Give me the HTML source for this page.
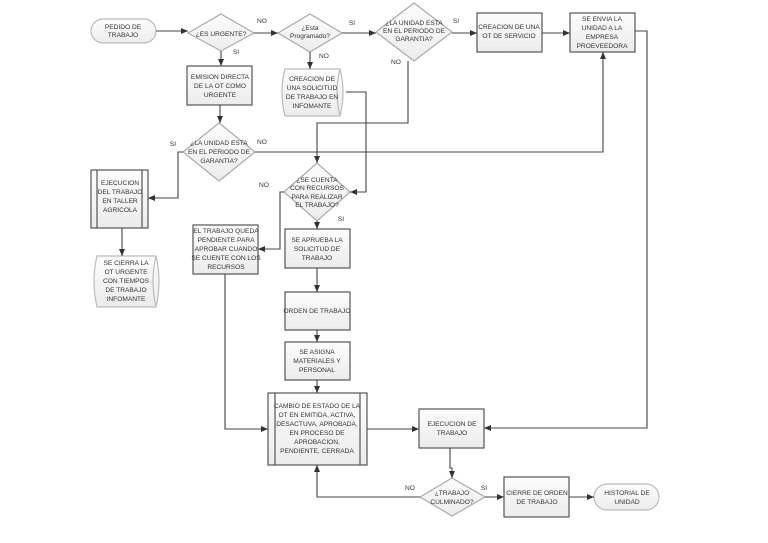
<!DOCTYPE html>
<html><head><meta charset="utf-8"><style>body{margin:0;background:#fff}svg{display:block}text{font-family:"Liberation Sans",sans-serif;font-size:6.6px;fill:#333;text-anchor:middle}</style></head><body>
<svg width="768" height="543" viewBox="0 0 768 543" xmlns="http://www.w3.org/2000/svg">
<defs>
<linearGradient id="g" x1="0" y1="0" x2="0" y2="1"><stop offset="0" stop-color="#fdfdfd"/><stop offset="1" stop-color="#ececec"/></linearGradient>
<marker id="a" markerWidth="8" markerHeight="8" refX="7" refY="4" orient="auto" markerUnits="userSpaceOnUse"><path d="M0,1 L7,4 L0,7 z" fill="#333"/></marker>
</defs>
<g fill="url(#g)" stroke="#555" stroke-width="1.2">
<rect x="91" y="19" width="65" height="24" rx="12" stroke="#bbb"/>
<polygon points="188,33 221,14 254,33 221,51" stroke="#aaa"/>
<polygon points="278,33 310,14 342,33 310,52" stroke="#aaa"/>
<polygon points="376,32 414,3 452,32 414,61" stroke="#aaa"/>
<rect x="477" y="13" width="65" height="39"/>
<rect x="570" y="13" width="65" height="39"/>
<rect x="187" y="66" width="65" height="39"/>
<path d="M285,69 H340 Q346,92 340,116 H285 Q279,92 285,69 Z" stroke="#bbb"/>
<path d="M340,69 Q334,92 340,116" fill="none" stroke="#bbb"/>
<polygon points="183,152 219,123 255,152 219,181" stroke="#aaa"/>
<rect x="91" y="170" width="57" height="58"/>
<path d="M97,256 H156 Q162,281 156,307 H97 Q91,281 97,256 Z" stroke="#bbb"/>
<path d="M156,256 Q150,281 156,307" fill="none" stroke="#bbb"/>
<polygon points="284,192 317,163 350,192 317,221" stroke="#aaa"/>
<rect x="193" y="225" width="65" height="49"/>
<rect x="285" y="229" width="65" height="39"/>
<rect x="285" y="292" width="65" height="38"/>
<rect x="285" y="342" width="65" height="38"/>
<rect x="268" y="393" width="99" height="72"/>
<rect x="419" y="409" width="65" height="39"/>
<polygon points="420,497 452,478 485,497 452,516" stroke="#aaa"/>
<rect x="504" y="477" width="65" height="40"/>
<rect x="594" y="484" width="65" height="26" rx="13" stroke="#bbb"/>
</g>
<g stroke="#555" stroke-width="1.2" fill="none">
<line x1="97" y1="170" x2="97" y2="228"/><line x1="142" y1="170" x2="142" y2="228"/>
<line x1="275" y1="393" x2="275" y2="465"/><line x1="360" y1="393" x2="360" y2="465"/>
</g>
<g stroke="#444" stroke-width="1.1" fill="none" marker-end="url(#a)">
<path d="M156,31 H188"/>
<path d="M254,33 H278"/>
<path d="M342,33 H376"/>
<path d="M452,33 H477"/>
<path d="M542,33 H570"/>
<path d="M635,31 H647 V428 H484"/>
<path d="M221,51 V66"/>
<path d="M310,52 V69"/>
<path d="M408,61 V123 H317 V163"/>
<path d="M346,92 H366 V192 H350"/>
<path d="M220,105 V123"/>
<path d="M183,152 H178 V198 H148"/>
<path d="M255,152 H603 V52"/>
<path d="M122,228 V256"/>
<path d="M284,192 H280 V249 H258"/>
<path d="M317,221 V229"/>
<path d="M317,268 V292"/>
<path d="M317,330 V342"/>
<path d="M317,380 V393"/>
<path d="M225,274 V429 H268"/>
<path d="M367,429 H419"/>
<path d="M450,448 V468 H452 V478"/>
<path d="M420,497 H317 V465"/>
<path d="M485,497 H504"/>
<path d="M569,497 H594"/>
</g>
<text x="123" y="29">PEDIDO DE</text><text x="123" y="37">TRABAJO</text>
<text x="221" y="36">¿ES URGENTE?</text>
<text x="310" y="30">¿Esta</text><text x="310" y="38">Programado?</text>
<text x="414" y="25">¿LA UNIDAD ESTA</text><text x="414" y="33">EN EL PERIODO DE</text><text x="414" y="41">GARANTIA?</text>
<text x="509" y="29">CREACION DE UNA</text><text x="509" y="38">OT DE SERVICIO</text>
<text x="602" y="21">SE ENVIA LA</text><text x="602" y="30">UNIDAD A LA</text><text x="602" y="39">EMPRESA</text><text x="602" y="48">PROEVEEDORA</text>
<text x="220" y="79">EMISION DIRECTA</text><text x="220" y="88">DE LA OT COMO</text><text x="220" y="97">URGENTE</text>
<text x="312" y="81">CREACION DE</text><text x="312" y="90">UNA SOLICITUD</text><text x="312" y="99">DE TRABAJO EN</text><text x="312" y="108">INFOMANTE</text>
<text x="219" y="145">¿LA UNIDAD ESTA</text><text x="219" y="154">EN EL PERIODO DE</text><text x="219" y="163">GARANTIA?</text>
<text x="120" y="185">EJECUCION</text><text x="120" y="194">DEL TRABAJO</text><text x="120" y="203">EN TALLER</text><text x="120" y="212">AGRICOLA</text>
<text x="126" y="265">SE CIERRA LA</text><text x="126" y="274">OT URGENTE</text><text x="126" y="283">CON TIEMPOS</text><text x="126" y="292">DE TRABAJO</text><text x="126" y="301">INFOMANTE</text>
<text x="317" y="182">¿SE CUENTA</text><text x="317" y="190">CON RECURSOS</text><text x="317" y="199">PARA REALIZAR</text><text x="317" y="207">EL TRABAJO?</text>
<text x="226" y="233">EL TRABAJO QUEDA</text><text x="226" y="242">PENDIENTE PARA</text><text x="226" y="251">APROBAR CUANDO</text><text x="226" y="260">SE CUENTE CON LOS</text><text x="226" y="269">RECURSOS</text>
<text x="317" y="242">SE APRUEBA LA</text><text x="317" y="251">SOLICITUD DE</text><text x="317" y="260">TRABAJO</text>
<text x="317" y="313">ORDEN DE TRABAJO</text>
<text x="317" y="354">SE ASIGNA</text><text x="317" y="363">MATERIALES Y</text><text x="317" y="372">PERSONAL</text>
<text x="317" y="408">CAMBIO DE ESTADO DE LA</text><text x="317" y="417">OT EN EMITIDA, ACTIVA,</text><text x="317" y="426">DESACTUVA, APROBADA,</text><text x="317" y="435">EN PROCESO DE</text><text x="317" y="444">APROBACION,</text><text x="317" y="453">PENDIENTE, CERRADA</text>
<text x="452" y="426">EJECUCION DE</text><text x="452" y="435">TRABAJO</text>
<text x="452" y="495">¿TRABAJO</text><text x="452" y="504">CULMINADO?</text>
<text x="537" y="495">CIERRE DE ORDEN</text><text x="537" y="504">DE TRABAJO</text>
<text x="627" y="495">HISTORIAL DE</text><text x="627" y="504">UNIDAD</text>
<text x="262" y="23">NO</text><text x="352" y="25">SI</text><text x="456" y="23">SI</text>
<text x="236" y="54">SI</text><text x="324" y="58">NO</text><text x="396" y="64">NO</text>
<text x="173" y="146">SI</text><text x="262" y="144">NO</text>
<text x="264" y="187">NO</text><text x="341" y="221">SI</text>
<text x="410" y="490">NO</text><text x="484" y="490">SI</text>
</svg>
</body></html>
